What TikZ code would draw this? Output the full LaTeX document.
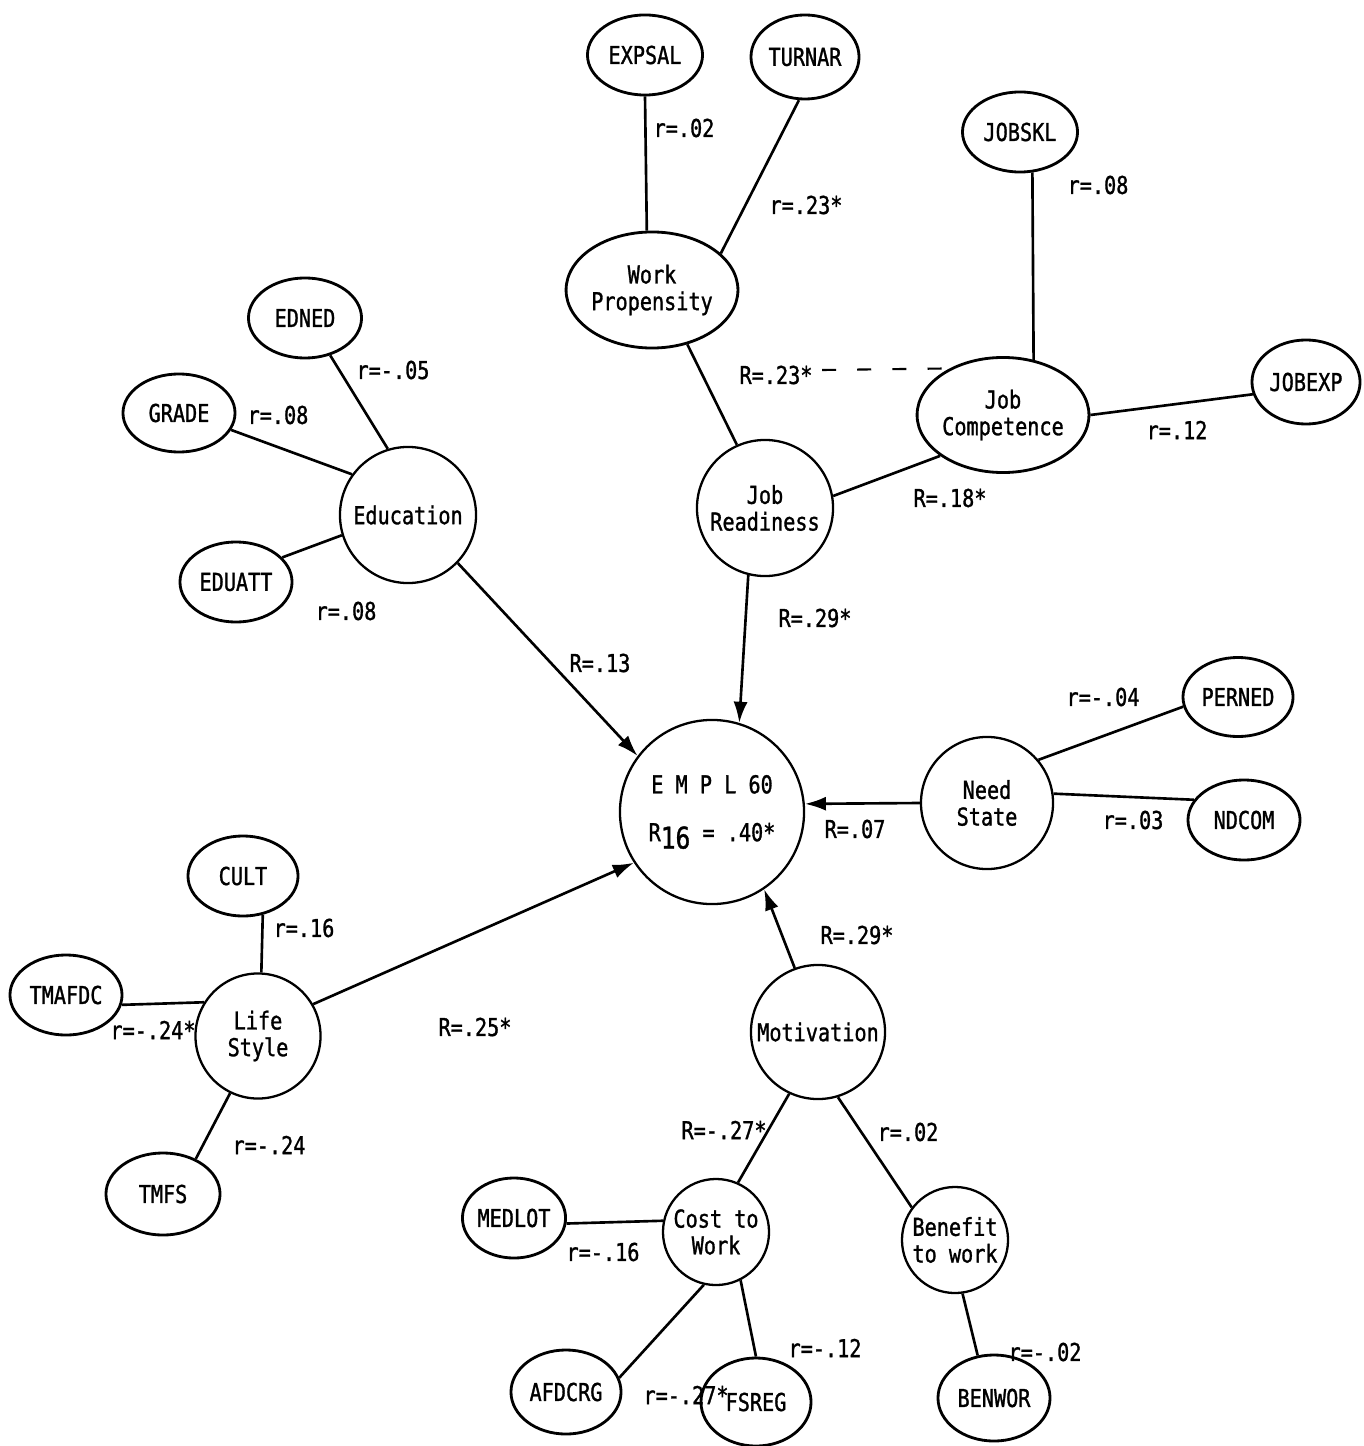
\documentclass[tikz,border=0pt]{standalone}
\usepackage{fontspec}
\newfontfamily\tw[FakeStretch=0.82,FakeBold=1.2]{DejaVu Sans Mono}
\usetikzlibrary{shapes.geometric,arrows.meta}
\tikzset{
  base/.style={font=\tw\fontsize{7}{7.6}\selectfont},
  var/.style={base,ellipse,draw,line width=0.8pt,inner sep=0pt,align=center},
  cons/.style={base,circle,draw,line width=0.65pt,inner sep=0pt,align=center},
  lab/.style={base,inner sep=0pt},
  link/.style={line width=0.75pt},
  arr/.style={line width=0.75pt,-{Latex[length=6pt,width=4pt]}}
}
\begin{document}
\begin{tikzpicture}[x=0.01cm,y=-0.01cm]
\useasboundingbox[fill=white] (0,0) rectangle (1363,1446);
% construct nodes
\node[cons,minimum size=1.84cm] (empl) at (712,812) {E M P L 60\\[6pt]R\raisebox{-0.3em}{\fontsize{8.5}{9}\selectfont 16} = .40*};
\node[var,minimum width=1.68cm,minimum height=1.16cm] (wp) at (652,290) {Work\\Propensity};
\node[var,minimum width=1.66cm,minimum height=1.15cm] (jc) at (1003,415) {Job\\Competence};
\node[cons,minimum size=1.36cm] (jr) at (765,508) {Job\\Readiness};
\node[cons,minimum size=1.36cm] (edu) at (408,515) {Education};
\node[cons,minimum size=1.32cm] (ns) at (987,803) {Need\\State};
\node[cons,minimum size=1.25cm] (ls) at (258,1036) {Life\\Style};
\node[cons,minimum size=1.34cm] (mot) at (818,1032) {Motivation};
\node[cons,minimum size=1.06cm] (ctw) at (716,1232) {Cost to\\Work};
\node[cons,minimum size=1.06cm] (ben) at (955,1240) {Benefit\\to work};
% variable nodes
\node[var,minimum width=1.15cm,minimum height=0.80cm] (expsal) at (645,55) {EXPSAL};
\node[var,minimum width=1.08cm,minimum height=0.84cm] (turnar) at (805,57) {TURNAR};
\node[var,minimum width=1.15cm,minimum height=0.80cm] (jobskl) at (1020,132) {JOBSKL};
\node[var,minimum width=1.08cm,minimum height=0.84cm] (jobexp) at (1306,382) {JOBEXP};
\node[var,minimum width=1.13cm,minimum height=0.80cm] (edned) at (305,318) {EDNED};
\node[var,minimum width=1.12cm,minimum height=0.78cm] (grade) at (179,413) {GRADE};
\node[var,minimum width=1.12cm,minimum height=0.80cm] (eduatt) at (236,582) {EDUATT};
\node[var,minimum width=1.10cm,minimum height=0.79cm] (perned) at (1238,697) {PERNED};
\node[var,minimum width=1.12cm,minimum height=0.80cm] (ndcom) at (1244,820) {NDCOM};
\node[var,minimum width=1.10cm,minimum height=0.80cm] (cult) at (243,876) {CULT};
\node[var,minimum width=1.12cm,minimum height=0.80cm] (tmafdc) at (66,995) {TMAFDC};
\node[var,minimum width=1.14cm,minimum height=0.82cm] (tmfs) at (163,1194) {TMFS};
\node[var,minimum width=0.98cm,minimum height=0.80cm] (medlot) at (514,1218) {MEDLOT};
\node[var,minimum width=1.10cm,minimum height=0.84cm] (afdcrg) at (566,1392) {AFDCRG};
\node[var,minimum width=1.10cm,minimum height=0.88cm] (fsreg) at (756,1402) {FSREG};
\node[var,minimum width=1.12cm,minimum height=0.86cm] (benwor) at (994,1398) {BENWOR};
% connectors
\draw[link] (expsal.-90) -- (wp.95);
\draw[link] (turnar.-98) -- (wp.28);
\draw[link] (wp.-57) -- (jr.114);
\draw[link] (jobskl.-73) -- (jc.61);
\draw[link] (jc.0) -- (jobexp.193);
\draw[link] (jr.10) -- (jc.213);
\coordinate (dstart) at (822,370);
\draw[line width=0.6pt,dash pattern=on 4pt off 6pt] (dstart) -- (jc.139);
\draw[link] (edned.-56) -- (edu.107);
\draw[link] (grade.-18) -- (edu.144);
\draw[link] (eduatt.28) -- (edu.197);
\draw[link] (ns.40) -- (perned.190);
\draw[link] (ns.8) -- (ndcom.158);
\draw[link] (cult.-63) -- (ls.87);
\draw[link] (tmafdc.-10) -- (ls.148);
\draw[link] (ls.-116) -- (tmfs.47);
\draw[link] (mot.-115) -- (ctw.66);
\draw[link] (mot.-73) -- (ben.143);
\draw[link] (medlot.-6) -- (ctw.168);
\draw[link] (ctw.-103) -- (afdcrg.15);
\draw[link] (ctw.-63) -- (fsreg.90);
\draw[link] (ben.-82) -- (benwor.111);
% arrows into EMPL
\draw[arr] (jr.-104) -- (empl.73);
\draw[arr] (edu.-44) -- (empl.143);
\draw[arr] (ns.180) -- (empl.5);
\draw[arr] (ls.30) -- (empl.213);
\draw[arr] (mot.110) -- (empl.-56);
% labels
\node[lab] (l1) at (684,128) {r=.02};
\node[lab] (l2) at (806,205) {r=.23*};
\node[lab] (l3) at (776,375) {R=.23*};
\node[lab] (l4) at (1098,185) {r=.08};
\node[lab] (l5) at (1177,430) {r=.12};
\node[lab] (l6) at (950,498) {R=.18*};
\node[lab] (l7) at (393,370) {r=-.05};
\node[lab] (l8) at (278,415) {r=.08};
\node[lab] (l9) at (346,611) {r=.08};
\node[lab] (l10) at (600,663) {R=.13};
\node[lab] (l11) at (815,618) {R=.29*};
\node[lab] (l12) at (1103,697) {r=-.04};
\node[lab] (l13) at (1133,820) {r=.03};
\node[lab] (l14) at (855,829) {R=.07};
\node[lab] (l15) at (304,928) {r=.16};
\node[lab] (l16) at (153,1030) {r=-.24*};
\node[lab] (l17) at (269,1145) {r=-.24};
\node[lab] (l18) at (475,1027) {R=.25*};
\node[lab] (l19) at (857,935) {R=.29*};
\node[lab] (l20) at (724,1130) {R=-.27*};
\node[lab] (l21) at (908,1132) {r=.02};
\node[lab] (l22) at (603,1252) {r=-.16};
\node[lab] (l23) at (686,1395) {r=-.27*};
\node[lab] (l24) at (825,1348) {r=-.12};
\node[lab] (l25) at (1045,1352) {r=-.02};
\end{tikzpicture}
\end{document}
